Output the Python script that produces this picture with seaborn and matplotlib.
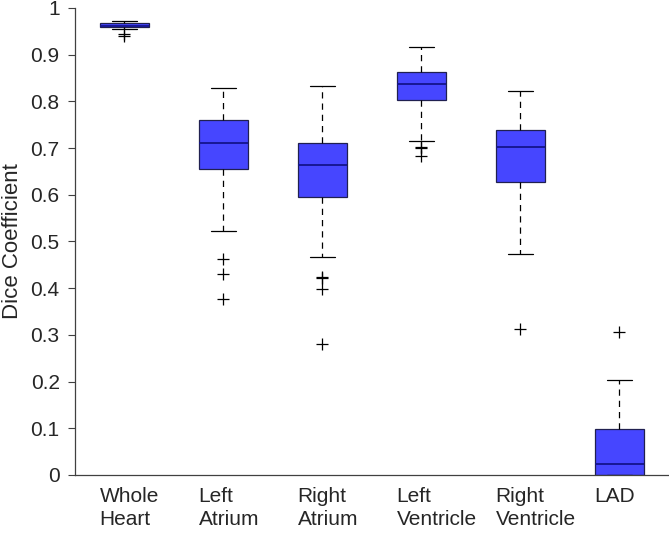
import pandas as pd
import seaborn as sns
import matplotlib.pyplot as plt
import matplotlib.transforms as mtransforms

# summary stats (Dice coefficient)
structures = ['Whole Heart', 'Left Atrium', 'Right Atrium', 'Left Ventricle', 'Right Ventricle', 'LAD']
tick_labels = ['Whole\nHeart', 'Left\nAtrium', 'Right\nAtrium', 'Left\nVentricle', 'Right\nVentricle', 'LAD']
whisk_lo = [0.954, 0.522, 0.466, 0.716, 0.473, 0.0]
q1 = [0.959, 0.655, 0.596, 0.803, 0.627, 0.0]
median = [0.962, 0.710, 0.664, 0.837, 0.702, 0.023]
q3 = [0.967, 0.760, 0.710, 0.862, 0.739, 0.098]
whisk_hi = [0.973, 0.828, 0.834, 0.916, 0.822, 0.203]
out_low = [[0.945, 0.941], [0.4625, 0.430, 0.377], [0.424, 0.421, 0.398, 0.280],
           [0.702, 0.700, 0.684], [0.312], []]
out_high = [[], [], [], [], [], [0.307]]


def rebuild(lo, a, m, b, hi, ol, oh):
    # sample whose quartiles / whiskers / fliers give the read summary
    k = max(len(ol), len(oh)) + 1
    vals = sorted(ol) + [lo] + [a] * (k - len(ol)) + [m] * k + [b] * k
    vals += [b] * (k - len(oh) - 1) + [hi] + sorted(oh)
    return vals


rows = []
for i, s in enumerate(structures):
    for v in rebuild(whisk_lo[i], q1[i], median[i], q3[i], whisk_hi[i], out_low[i], out_high[i]):
        rows.append({'structure': s, 'dice': v})
df = pd.DataFrame(rows)

sns.set_style('ticks')
plt.rcParams['font.family'] = ['Liberation Sans', 'DejaVu Sans']

fig = plt.figure(figsize=(6.69, 5.33), dpi=100)
ax = fig.add_axes([0.112, 0.109, 0.888, 0.876])

sns.boxplot(data=df, x='structure', y='dice', order=structures, ax=ax,
            width=0.5, whis=1.5, color='#4646ff', saturation=1,
            linecolor='#202050', linewidth=0.9,
            boxprops=dict(facecolor='#4646ff', edgecolor='#202050'),
            medianprops=dict(color='#14148c', linewidth=1.3),
            whiskerprops=dict(color='black', linestyle=(0, (5, 4)), linewidth=0.9),
            capprops=dict(color='black', linewidth=0.9),
            flierprops=dict(marker='+', markeredgecolor='black', markersize=9,
                            markeredgewidth=0.9))

# caps half the box width, like the original
for line in ax.lines:
    xd = line.get_xdata()
    yd = line.get_ydata()
    if len(xd) == 2 and yd[0] == yd[1] and abs(xd[1] - xd[0]) > 0.01 and line.get_color() == 'black':
        c = (xd[0] + xd[1]) / 2
        line.set_xdata([c - 0.125, c + 0.125])

ax.set_xlim(-0.5, 5.5)
ax.set_ylim(0, 1)
ax.set_yticks([0, 0.1, 0.2, 0.3, 0.4, 0.5, 0.6, 0.7, 0.8, 0.9, 1])
ax.set_yticklabels(['0', '0.1', '0.2', '0.3', '0.4', '0.5', '0.6', '0.7', '0.8', '0.9', '1'])
ax.tick_params(axis='y', labelsize=15, length=5, width=0.8, color='#404040', pad=6)
ax.set_xticks([])
ax.set_xlabel('')
ax.set_ylabel('Dice Coefficient', fontsize=16)
ax.yaxis.set_label_coords(-0.088, 0.5)
sns.despine(ax=ax)
for sp in ['left', 'bottom']:
    ax.spines[sp].set_color('#404040')
    ax.spines[sp].set_linewidth(0.9)

# category labels: left-aligned a bit left of each box centre
trans = mtransforms.blended_transform_factory(ax.transData, fig.transFigure)
for i, lab in enumerate(tick_labels):
    ax.text(i - 0.25, 0.086, lab, transform=trans, ha='left', va='top', fontsize=15,
            linespacing=1.25, clip_on=False)

fig.savefig('out.png', dpi=100)
